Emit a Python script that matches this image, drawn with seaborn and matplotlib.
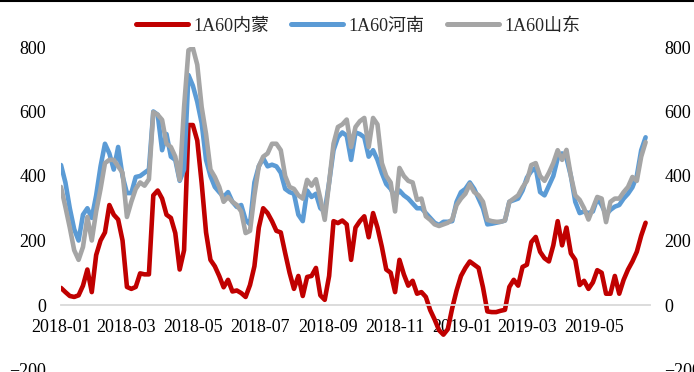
import numpy as np
import pandas as pd
import matplotlib
matplotlib.use("Agg")
import matplotlib.pyplot as plt
import matplotlib.dates as mdates
from matplotlib.lines import Line2D
import seaborn as sns

# Sampling dates (every 4 days from the start of 2018)
dates = pd.date_range("2018-01-01", periods=134, freq="4D")

series_names = ["1A60内蒙", "1A60河南", "1A60山东"]

neimeng = [53, 40, 28, 25, 30, 60, 110, 40, 155, 200,
           225, 310, 280, 265, 200, 56, 50, 56, 98, 95,
           95, 340, 355, 330, 280, 270, 223, 110, 170, 558,
           558, 510, 378, 225, 140, 120, 90, 55, 78, 42,
           45, 37, 25, 62, 120, 240, 300, 285, 260, 230,
           225, 161, 100, 50, 90, 28, 87, 90, 115, 30,
           16, 90, 260, 254, 262, 250, 140, 240, 260, 275,
           210, 285, 240, 180, 110, 100, 40, 140, 95, 60,
           75, 35, 40, 25, -16, -45, -78, -92, -75, -10,
           45, 90, 115, 135, 125, 115, 55, -20, -22, -22,
           -18, -15, 56, 78, 60, 118, 125, 195, 211, 165,
           145, 135, 185, 260, 185, 240, 160, 140, 62, 75,
           50, 70, 108, 100, 35, 35, 90, 35, 78, 110,
           135, 165, 215, 255]

henan = [434, 380, 300, 235, 200, 280, 300, 270, 340, 430,
         500, 470, 420, 490, 400, 347, 347, 397, 400, 410,
         420, 600, 590, 480, 530, 460, 450, 385, 420, 713,
         680, 630, 564, 450, 400, 366, 350, 335, 350, 320,
         304, 310, 264, 250, 380, 430, 455, 430, 435, 430,
         410, 360, 350, 345, 280, 260, 355, 335, 345, 300,
         290, 380, 480, 520, 535, 525, 450, 535, 530, 520,
         460, 480, 450, 409, 375, 360, 335, 355, 340, 330,
         315, 300, 300, 285, 270, 255, 248, 258, 258, 260,
         320, 350, 360, 380, 360, 330, 300, 250, 252, 255,
         258, 262, 320, 325, 330, 355, 395, 415, 425, 350,
         340, 370, 400, 455, 470, 455, 400, 320, 285, 290,
         285, 290, 330, 310, 280, 295, 305, 310, 330, 345,
         365, 400, 480, 520]

shandong = [366, 304, 240, 170, 140, 180, 273, 200, 290, 360,
            440, 450, 450, 430, 410, 273, 320, 360, 380, 370,
            390, 598, 590, 574, 500, 490, 460, 388, 614, 790,
            797, 745, 614, 530, 420, 397, 366, 320, 335, 320,
            310, 290, 223, 230, 340, 430, 460, 470, 500, 500,
            480, 400, 366, 360, 340, 330, 388, 370, 390, 330,
            264, 380, 500, 552, 560, 575, 490, 552, 570, 580,
            490, 580, 560, 440, 400, 380, 290, 425, 400, 385,
            380, 326, 330, 275, 264, 250, 245, 250, 255, 265,
            310, 330, 345, 375, 350, 340, 320, 264, 260, 258,
            258, 262, 320, 330, 340, 365, 385, 434, 440, 400,
            385, 410, 440, 480, 450, 481, 400, 340, 326, 300,
            265, 300, 335, 330, 257, 320, 330, 330, 350, 366,
            397, 385, 460, 505]

y_ticks = [-200, 0, 200, 400, 600, 800]
colors = ["#C00000", "#5B9BD5", "#A5A5A5"]

df = pd.DataFrame({"date": dates, series_names[0]: neimeng,
                   series_names[1]: henan, series_names[2]: shandong})
long_df = df.melt(id_vars="date", var_name="series", value_name="value")

sns.set_theme(style="white")
plt.rcParams["font.family"] = ["Liberation Serif", "Noto Sans CJK SC"]

fig = plt.figure(figsize=(6.94, 3.72), dpi=100)
ax = fig.add_axes([61 / 694, 1 - 369.5 / 372, (650 - 61) / 694, (369.5 - 47) / 372])

sns.lineplot(data=long_df, x="date", y="value", hue="series",
             hue_order=series_names, palette=colors, linewidth=3.3,
             ax=ax, legend=False)

ax.set_ylim(-200, 800)
ax.set_yticks(y_ticks)
ax.set_xlim(pd.Timestamp("2018-01-01"), pd.Timestamp("2018-01-01") + pd.Timedelta(days=536))
ax.xaxis.set_major_locator(mdates.MonthLocator(bymonth=[1, 3, 5, 7, 9, 11]))
ax.xaxis.set_major_formatter(mdates.DateFormatter("%Y-%m"))
ax.set_xlabel("")
ax.set_ylabel("")

for side in ["left", "right", "top"]:
    ax.spines[side].set_visible(False)
ax.spines["bottom"].set_position(("data", 0))
ax.spines["bottom"].set_color("#D9D9D9")
ax.spines["bottom"].set_linewidth(1.3)

ax.tick_params(axis="x", direction="out", length=4, width=1.0, color="#D9D9D9",
               labelsize=13, pad=6, labelcolor="black")
ax.tick_params(axis="y", left=False, right=False, length=0, labelleft=True,
               labelright=True, labelsize=13, pad=10.5, labelcolor="black")
ax.grid(False)

handles = [Line2D([0], [0], color=c, lw=3.6) for c in colors]
fig.legend(handles, series_names, loc="center", ncol=3, frameon=False,
           bbox_to_anchor=(358 / 694, 1 - 26 / 372), fontsize=13,
           handlelength=2.9, handletextpad=0.3, columnspacing=1.2)

fig.add_artist(Line2D([0, 1], [0.997, 0.997], color="black", lw=1.5,
                      transform=fig.transFigure))

fig.savefig("out.png", dpi=100)
